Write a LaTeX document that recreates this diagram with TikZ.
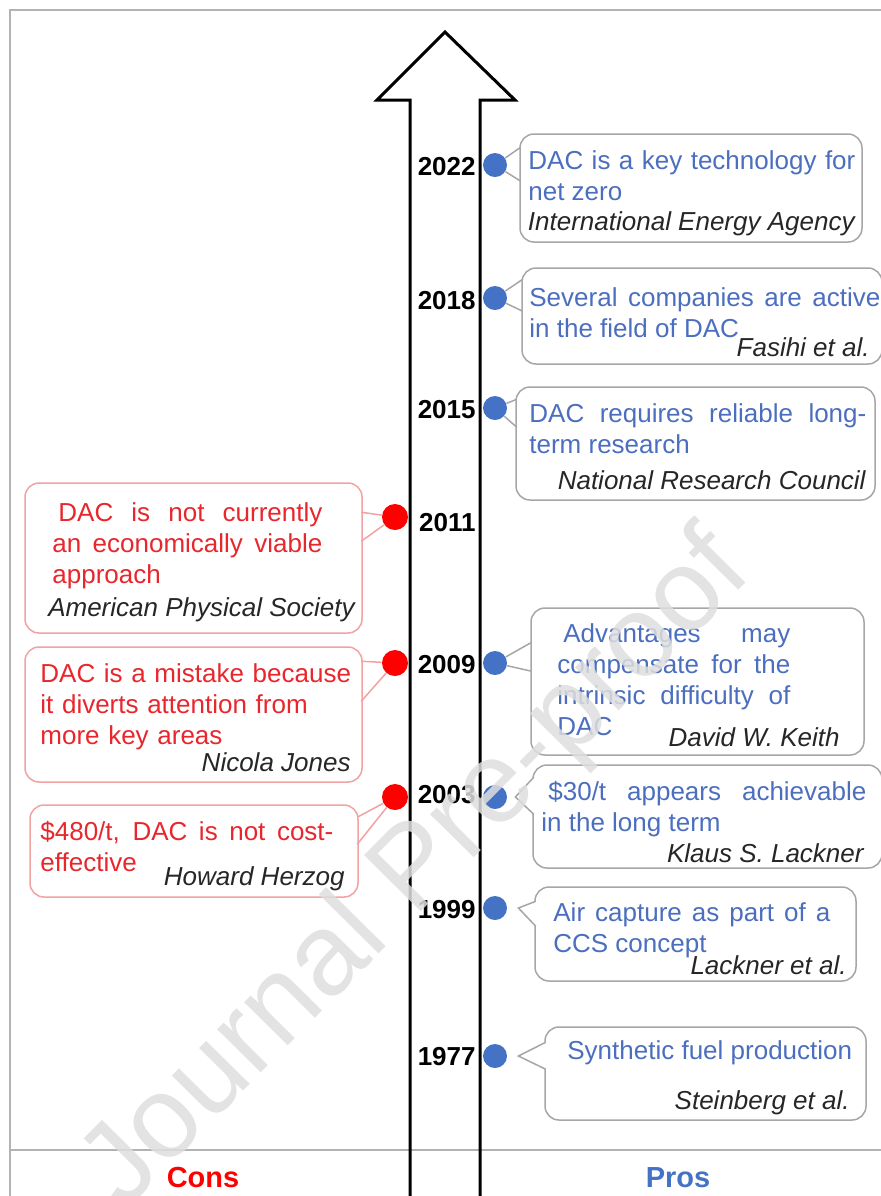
\documentclass[tikz,border=0pt]{standalone}
\usepackage{fontspec}
\setmainfont{Liberation Sans}
\usepackage{xcolor}
\usepackage{tikz}
\usetikzlibrary{calc}

\definecolor{problue}{HTML}{4472C4}
\definecolor{protext}{HTML}{4B6EBF}
\definecolor{conred}{HTML}{FF0000}
\definecolor{context}{HTML}{E8262C}
\definecolor{proedge}{HTML}{A6A6A6}
\definecolor{conedge}{HTML}{F2A2A2}
\definecolor{framegray}{HTML}{B3B3B3}

\begin{document}
\begin{tikzpicture}[x=0.5pt, y=-0.5pt,
    year/.style={font=\fontsize{13pt}{15.5pt}\selectfont\bfseries, inner sep=0pt, anchor=east},
    prodot/.style={circle, fill=problue, minimum size=12pt, inner sep=0pt},
    condot/.style={circle, fill=conred, minimum size=13pt, inner sep=0pt},
    probox/.style={draw=proedge, line width=0.75pt, rounded corners=7pt, inner sep=0pt},
    conbox/.style={draw=conedge, line width=0.75pt, rounded corners=7pt, inner sep=0pt},
    proline/.style={draw=proedge, line width=0.75pt, fill=white},
    conline/.style={draw=conedge, line width=0.75pt, fill=white},
    body/.style={font=\fontsize{13pt}{15.5pt}\selectfont, inner sep=0pt, anchor=north west, align=justify},
    protxt/.style={body, text=protext},
    contxt/.style={body, text=context},
    author/.style={font=\fontsize{13pt}{15.5pt}\selectfont\itshape, text=black!85, inner sep=0pt, anchor=base east},
    side/.style={font=\fontsize{14.5pt}{17pt}\selectfont\bfseries}]
    \useasboundingbox (0,0) rectangle (881,1196);

    % frame and time axis
    \draw[framegray, line width=1pt] (10,1196) -- (10,10) -- (881,10);
    \draw[framegray, line width=1pt] (10,1150) -- (881,1150);
    \draw[line width=1.5pt] (410,1196) -- (410,100) -- (377,100) -- (445,32) -- (515,100) -- (480,100) -- (480,1196);

    % years
    \node[year] (y2022) at (476,167) {2022};
    \node[year] (y2018) at (476,301) {2018};
    \node[year] (y2015) at (476,410) {2015};
    \node[year] (y2011) at (476,523) {2011};
    \node[year] (y2009) at (476,665) {2009};
    \node[year] (y2003) at (476,795) {2003};
    \node[year] (y1999) at (476,910) {1999};
    \node[year] (y1977) at (476,1057) {1977};

    % dots
    \node[prodot] (d2022) at (495,165) {};
    \node[prodot] (d2018) at (495,298) {};
    \node[prodot] (d2015) at (495,408) {};
    \node[prodot] (d2009) at (495,663) {};
    \node[prodot] (d2003) at (495,797) {};
    \node[prodot] (d1999) at (495,908) {};
    \node[prodot] (d1977) at (495,1056) {};
    \node[condot] (e2011) at (395,517) {};
    \node[condot] (e2009) at (395,663) {};
    \node[condot] (e2003) at (395,797) {};

    % pros boxes
    \node[probox, minimum width=171pt, minimum height=54pt] (p2022) at (691,188) {};
    \node[probox, minimum width=180pt, minimum height=48pt] (p2018) at (702,316) {};
    \node[probox, minimum width=179.5pt, minimum height=56.5pt] (p2015) at (695.5,443.5) {};
    \node[probox, minimum width=166.5pt, minimum height=73.5pt] (p2009) at (697.5,681.5) {};
    \node[probox, minimum width=174.5pt, minimum height=51.5pt] (p2003) at (707.5,816.5) {};
    \node[probox, minimum width=160.5pt, minimum height=47pt] (p1999) at (695.5,934) {};
    \node[probox, minimum width=160.5pt, minimum height=46.5pt] (p1977) at (705.5,1073.5) {};

    \path[proline] ($(p2022.north west)+(1.5,14)$) -- (d2022) -- ($(p2022.north west)+(1.5,48)$);
    \path[proline] ($(p2018.north west)+(1.5,12)$) -- (d2018) -- ($(p2018.north west)+(1.5,44)$);
    \path[proline] ($(p2015.north west)+(1.5,13)$) -- (d2015) -- ($(p2015.north west)+(1.5,41)$);
    \path[proline] ($(p2009.north west)+(1.5,35)$) -- (d2009) -- ($(p2009.north west)+(1.5,64)$);
    \path[proline] ($(p2003.north west)+(1.5,13)$) -- ($(d2003.east)+(8,0)$) -- ($(p2003.north west)+(1.5,50)$);
    \path[proline] ($(p1999.north west)+(1.5,15)$) -- ($(d1999.east)+(11,0)$) -- ($(p1999.north west)+(1.5,40)$);
    \path[proline] ($(p1977.north west)+(1.5,16)$) -- ($(d1977.east)+(11,0)$) -- ($(p1977.north west)+(1.5,43)$);

    % cons boxes
    \node[conbox, minimum width=168.5pt, minimum height=75pt] (c2011) at (193.5,558) {};
    \node[conbox, minimum width=168.5pt, minimum height=67.5pt] (c2009) at (193.5,714.5) {};
    \node[conbox, minimum width=164pt, minimum height=46pt] (c2003) at (194,851) {};

    \path[conline] ($(c2011.north east)+(-1.5,30)$) -- (e2011) -- ($(c2011.north east)+(-1.5,59)$);
    \path[conline] ($(c2009.north east)+(-1.5,15)$) -- (e2009) -- ($(c2009.north east)+(-1.5,55)$);
    \path[conline] ($(c2003.north east)+(-1.5,13)$) -- (e2003) -- ($(c2003.north east)+(-1.5,40)$);

    % pros texts
    \node[protxt, text width=163.5pt] (t2022) at (528,150) {DAC is a key technology for\linebreak net zero};
    \node[author] (a2022) at (855,230) {International Energy Agency};
    \node[protxt, text width=175.5pt] (t2018) at (529,287) {Several companies are active\linebreak in the field of DAC};
    \node[author] (a2018) at (870,356) {Fasihi et al.};
    \node[protxt, text width=168.5pt] (t2015) at (529,403) {DAC requires reliable long-\linebreak term research};
    \node[author] (a2015) at (866,489) {National Research Council};
    \node[protxt, text width=116.5pt] (t2009) at (557,623) {\hspace*{3pt}Advantages may\linebreak compensate for the\linebreak intrinsic difficulty of\linebreak DAC};
    \node[author] (a2009) at (840,746) {David W. Keith};
    \node[protxt, text width=162.5pt] (t2003) at (541,781) {\hspace*{3.5pt}\$30/t appears achievable\linebreak in the long term};
    \node[author] (a2003) at (864,862) {Klaus S. Lackner};
    \node[protxt, text width=138.5pt] (t1999) at (553,902) {Air capture as part of a\linebreak CCS concept};
    \node[author] (a1999) at (847,974) {Lackner et al.};
    \node[protxt, text width=145pt] (t1977) at (567,1040) {Synthetic fuel production};
    \node[author] (a1977) at (850,1109) {Steinberg et al.};

    % cons texts
    \node[contxt, text width=135pt] (t2011) at (52,502) {\hspace*{3pt}DAC is not currently\linebreak an economically viable\linebreak approach};
    \node[author] (a2011) at (355,616) {American Physical Society};
    \node[contxt, text width=156pt, align=left] (t2009c) at (40,663) {DAC is a mistake because\\ it diverts attention from\\ more key areas};
    \node[author] (a2009c) at (351,771) {Nicola Jones};
    \node[contxt, text width=146.5pt] (t2003c) at (40,821) {\$480/t, DAC is not cost-\linebreak effective};
    \node[author] (a2003c) at (345,885) {Howard Herzog};

    % column labels
    \node[side, text=conred] (cons) at (203,1178) {Cons};
    \node[side, text=problue] (pros) at (678,1178) {Pros};

    % watermark
    \node[font=\fontsize{58pt}{60pt}\selectfont, text=black!13, opacity=0.85, rotate=45.3] (wm) at (418,872) {Journal Pre-proof};
\end{tikzpicture}
\end{document}
